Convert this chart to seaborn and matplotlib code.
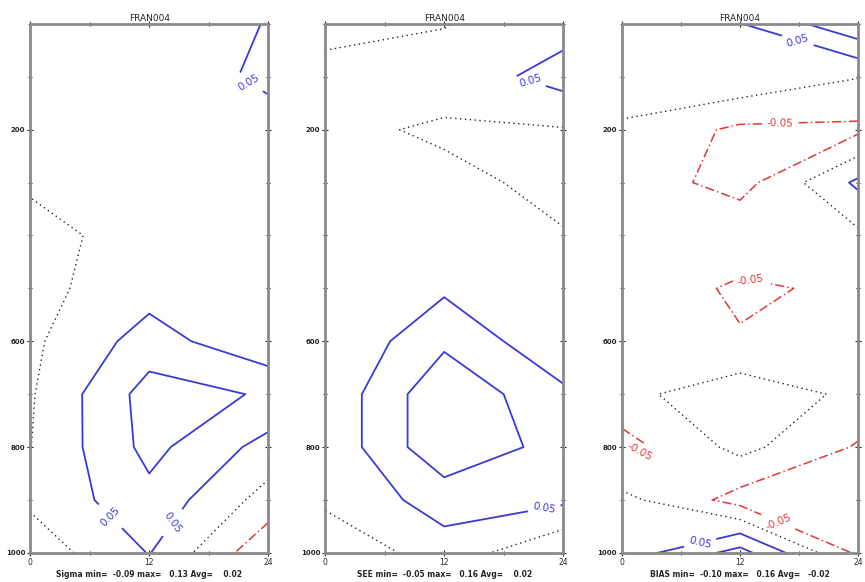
import numpy as np
import matplotlib
matplotlib.use("Agg")
import matplotlib.pyplot as plt
import seaborn as sns

# grid: hours (columns) x pressure levels (rows)
hours = [0, 12, 24]
levels_p = [0, 100, 200, 300, 400, 500, 600, 700, 800, 900, 1000]

# panel values, one row per pressure level, columns = hours
z_sigma = [
    [0.02, 0.02, 0.052],
    [0.02, 0.02, 0.06],
    [0.015, 0.025, 0.03],
    [0.008, 0.03, 0.03],
    [-0.02, 0.025, 0.02],
    [-0.015, 0.03, 0.015],
    [-0.01, 0.072, 0.01],
    [-0.005, 0.121, 0.095],
    [-0.001, 0.115, 0.032],
    [0.009, 0.085, -0.02],
    [-0.03, 0.052, -0.09],
]
z_see = [
    [-0.01, -0.002, 0.03],
    [0.01, 0.02, 0.07],
    [0.01, -0.006, -0.003],
    [0.015, 0.01, -0.01],
    [0.02, 0.03, 0.002],
    [0.02, 0.042, 0.01],
    [0.002, 0.09, 0.01],
    [0.01, 0.14, 0.06],
    [0.01, 0.14, 0.08],
    [0.012, 0.07, 0.06],
    [-0.048, 0.03, -0.048],
]
z_bias = [
    [0.03, 0.048, 0.14],
    [0.04, 0.04, 0.002],
    [-0.01, -0.06, -0.06],
    [-0.02, -0.07, 0.06],
    [-0.02, -0.01, -0.01],
    [-0.01, -0.06, -0.038],
    [-0.015, -0.045, -0.03],
    [-0.0135, 0.03, -0.011],
    [-0.07, 0.015, -0.055],
    [0.015, -0.07, -0.06],
    [0.02, 0.12, -0.06],
]

titles = ["FRAN004", "FRAN004", "FRAN004"]
footers = ["Sigma min=  -0.09 max=   0.13 Avg=    0.02",
           "SEE min=  -0.05 max=   0.16 Avg=    0.02",
           "BIAS min=  -0.10 max=   0.16 Avg=   -0.02"]
xticks = [0, 12, 24]
yticks = [200, 600, 800, 1000]

# where the contour labels sit (hour, pressure)
pos_labels = [[(22.2, 106), (7.1, 949), (13.4, 930)],
              [(20.7, 106), (22.2, 926)],
              [(17.8, 36), (7.9, 977)]]
neg_labels = [[],
              [],
              [(16.1, 187), (13.0, 490), (2.3, 830), (15.4, 962)]]

sns.set_theme(style="white")
plt.rcParams["font.family"] = ["DejaVu Sans"]

fig = plt.figure(figsize=(8.65, 5.82), dpi=100)
lefts = [0.035, 0.376, 0.719]
widths = [0.275, 0.275, 0.273]

blue = "#3a3ad6"
red = "#e0383a"
dashdot = [(0, (6, 2, 1, 2))]

X, Y = np.meshgrid(hours, levels_p)
for i, z in enumerate([z_sigma, z_see, z_bias]):
    Z = np.array(z)
    ax = fig.add_axes([lefts[i], 0.05, widths[i], 0.909])
    # positive contours, solid blue
    c05 = ax.contour(X, Y, Z, levels=[0.05], colors=blue, linewidths=1.3)
    ax.clabel(c05, fmt="%.2f", fontsize=7.5, inline=True, manual=pos_labels[i])
    if Z.max() > 0.10:
        ax.contour(X, Y, Z, levels=[0.10], colors=blue, linewidths=1.3)
    # zero line, dotted black
    ax.contour(X, Y, Z, levels=[0.0], colors="#222222", linewidths=1.0,
               linestyles=[(0, (1, 2.5))])
    # negative contours, red dash-dot
    if Z.min() < -0.05:
        cn = ax.contour(X, Y, Z, levels=[-0.05], colors=red, linewidths=1.1,
                        linestyles=dashdot)
        if neg_labels[i]:
            ax.clabel(cn, fmt="%.2f", fontsize=7.5, inline=True,
                      manual=neg_labels[i])
    if Z.min() < -0.10:
        ax.contour(X, Y, Z, levels=[-0.10], colors=red, linewidths=1.1,
                   linestyles=dashdot)

    ax.set_xlim(0, 24)
    ax.set_ylim(1000, 0)
    ax.set_xticks(xticks)
    ax.set_xticklabels([str(t) for t in xticks], fontsize=5.5)
    ax.set_xticks([6, 18], minor=True)
    ax.set_yticks(yticks)
    ax.set_yticklabels([str(t) for t in yticks], fontsize=5, fontweight="bold")
    ax.set_yticks([0, 100, 300, 400, 500, 700, 900], minor=True)
    ax.tick_params(which="both", direction="inout", length=5, width=0.8,
                   top=True, right=True, bottom=True, left=True, pad=1)
    ax.tick_params(which="minor", length=3)
    for s in ax.spines.values():
        s.set_color("#8a8a8a")
        s.set_linewidth(2)
    ax.set_title(titles[i], fontsize=6.5, pad=2)
    ax.text(0.5, -0.032, footers[i], transform=ax.transAxes, ha="center",
            va="top", fontsize=5.5, fontweight="bold")

fig.savefig("out.png", dpi=100)
